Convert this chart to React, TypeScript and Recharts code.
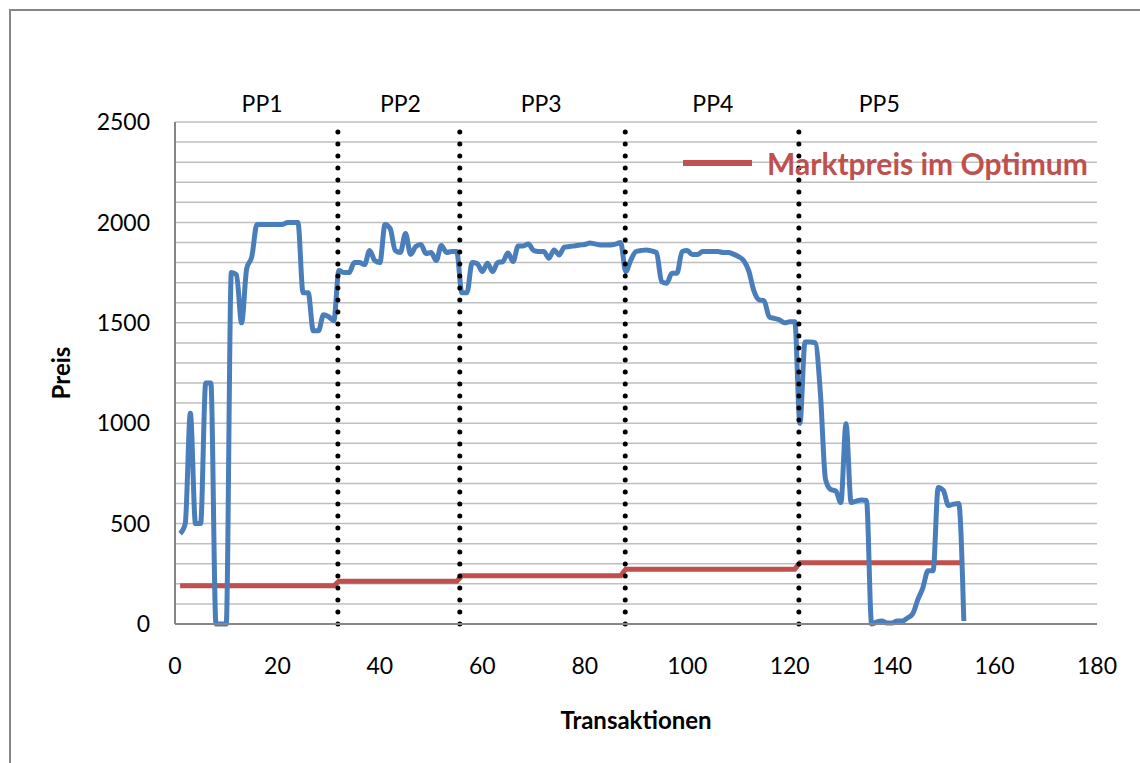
import React from "react";
import {
  LineChart,
  Line,
  XAxis,
  YAxis,
  CartesianGrid,
  ReferenceLine,
  ReferenceDot,
  Legend,
  Label,
} from "recharts";

// Preis je Transaktion (Transaktion 1..154)
const preis = [
  450, 500, 1050, 500, 500, 1200, 1200, 0, 0, 0,
  1750, 1740, 1500, 1770, 1830, 1990, 1990, 1990, 1990, 1990,
  1990, 2000, 2000, 2000, 1650, 1650, 1460, 1460, 1540, 1530,
  1510, 1760, 1750, 1750, 1800, 1800, 1790, 1860, 1810, 1800,
  1990, 1970, 1860, 1850, 1945, 1840, 1880, 1890, 1845, 1850,
  1810, 1885, 1850, 1855, 1855, 1650, 1650, 1800, 1795, 1755,
  1797, 1755, 1800, 1805, 1847, 1805, 1883, 1883, 1893, 1860,
  1855, 1855, 1822, 1863, 1838, 1877, 1880, 1883, 1887, 1890,
  1897, 1893, 1888, 1888, 1888, 1892, 1900, 1755, 1813, 1855,
  1860, 1863, 1858, 1850, 1705, 1697, 1747, 1747, 1855, 1860,
  1840, 1840, 1855, 1855, 1855, 1855, 1850, 1850, 1842, 1830,
  1810, 1760, 1660, 1615, 1610, 1530, 1522, 1515, 1500, 1505,
  1505, 1000, 1405, 1405, 1400, 1150, 720, 670, 663, 605,
  997, 605, 612, 618, 615, 0, 10, 15, 5, 5,
  15, 15, 30, 50, 120, 180, 265, 265, 680, 665,
  590, 597, 600, 15,
];

// Perioden und Marktpreis im Optimum
const periodeNamen = ["PP1", "PP2", "PP3", "PP4", "PP5"];
const periodeStart = [1, 32, 56, 88, 122];
const periodeEnde = [31, 55, 87, 121, 154];
const marktpreis = [190, 213, 240, 273, 305];
const periodeMitte = [17, 44, 71.5, 105, 137.5];
const periodeGrenzen = [31.8, 55.6, 87.9, 121.8];

const xTicks = [0, 20, 40, 60, 80, 100, 120, 140, 160, 180];
const yTicks = [
  0, 100, 200, 300, 400, 500, 600, 700, 800, 900, 1000, 1100, 1200,
  1300, 1400, 1500, 1600, 1700, 1800, 1900, 2000, 2100, 2200, 2300,
  2400, 2500,
];

const BLUE = "#4a7ebb";
const RED = "#c0504d";
const AXIS = "#868686";
const GRID = "#bfbfbf";
const FONT = "Lato, 'Open Sans', sans-serif";

const data = preis.map((p, i) => {
  const t = i + 1;
  const k = periodeStart.findIndex((s, j) => t >= s && t <= periodeEnde[j]);
  return { t, preis: p, markt: marktpreis[k] };
});

function MarktLegend() {
  return (
    <div style={{ display: "flex", alignItems: "center", whiteSpace: "nowrap" }}>
      <span
        style={{ display: "inline-block", width: 69, height: 6, background: RED, marginRight: 15 }}
      />
      <span style={{ fontFamily: FONT, fontWeight: 700, fontSize: 30, color: RED, lineHeight: "34px" }}>
        Marktpreis im Optimum
      </span>
    </div>
  );
}

export default function App() {
  return (
    <div
      style={{
        position: "fixed",
        left: 0,
        top: 0,
        width: 1140,
        height: 763,
        overflow: "hidden",
        background: "#fff",
      }}
    >
      {/* Rahmen des Diagrammbereichs */}
      <div
        style={{
          position: "absolute",
          left: 9,
          top: 9,
          width: 1300,
          height: 900,
          border: `2px solid ${AXIS}`,
        }}
      />
      <LineChart
        width={1140}
        height={763}
        data={data}
        margin={{ top: 122, right: 43, bottom: 0, left: 0 }}
        style={{ position: "absolute", left: 0, top: 0 }}
      >
        <CartesianGrid horizontal vertical={false} stroke={GRID} strokeWidth={1.5} />
        <XAxis
          dataKey="t"
          type="number"
          domain={[0, 180]}
          ticks={xTicks}
          height={139}
          tickSize={0}
          tickMargin={34}
          axisLine={{ stroke: AXIS, strokeWidth: 2 }}
          tickLine={false}
          tick={{ fill: "#000", fontSize: 23, fontFamily: FONT }}
        >
          <Label
            content={(props: any) => {
              const vb = props.viewBox;
              return (
                <text
                  x={vb.x + vb.width / 2}
                  y={vb.y + 105}
                  textAnchor="middle"
                  fontFamily={FONT}
                  fontWeight={700}
                  fontSize={24}
                  fill="#000"
                >
                  Transaktionen
                </text>
              );
            }}
          />
        </XAxis>
        <YAxis
          type="number"
          domain={[0, 2500]}
          ticks={yTicks}
          width={175}
          tickSize={0}
          tickMargin={25}
          interval={0}
          axisLine={{ stroke: AXIS, strokeWidth: 2 }}
          tickLine={false}
          tickFormatter={(v: number) => (v % 500 === 0 ? String(v) : "")}
          tick={{ fill: "#000", fontSize: 23, fontFamily: FONT }}
        >
          <Label
            content={(props: any) => {
              const vb = props.viewBox;
              const cx = vb.x + 60;
              const cy = vb.y + vb.height / 2;
              return (
                <text
                  x={cx}
                  y={cy}
                  transform={`rotate(-90 ${cx} ${cy})`}
                  textAnchor="middle"
                  dominantBaseline="central"
                  fontFamily={FONT}
                  fontWeight={700}
                  fontSize={24}
                  fill="#000"
                >
                  Preis
                </text>
              );
            }}
          />
        </YAxis>
        <Legend
          layout="horizontal"
          verticalAlign="middle"
          align="center"
          content={() => <MarktLegend />}
          wrapperStyle={{ left: 683, top: 146, width: "auto" }}
        />
        <Line
          dataKey="markt"
          name="Marktpreis im Optimum"
          type="linear"
          stroke={RED}
          strokeWidth={5}
          dot={false}
          activeDot={false}
          isAnimationActive={false}
        />
        <Line
          dataKey="preis"
          name="Preis"
          type="monotone"
          stroke={BLUE}
          strokeWidth={5}
          strokeLinejoin="round"
          dot={false}
          activeDot={false}
          legendType="none"
          isAnimationActive={false}
        />
        {periodeGrenzen.map((g) => (
          <ReferenceLine
            key={g}
            x={g}
            stroke="#000"
            strokeWidth={5}
            strokeDasharray="0 12"
            strokeLinecap="round"
          />
        ))}
        {periodeNamen.map((n, i) => (
          <ReferenceDot
            key={n}
            x={periodeMitte[i]}
            y={2500}
            r={0}
            fill="none"
            stroke="none"
            label={{
              value: n,
              position: "top",
              offset: 10,
              fill: "#000",
              fontSize: 23,
              fontFamily: FONT,
            }}
          />
        ))}
      </LineChart>
    </div>
  );
}
